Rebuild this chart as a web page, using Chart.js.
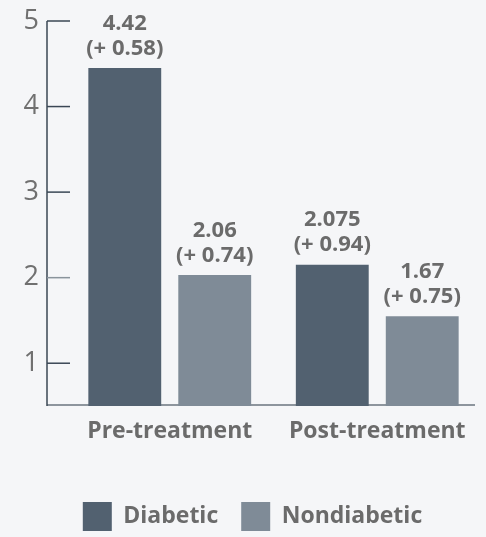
<!DOCTYPE html>
<html>
<head>
<meta charset="utf-8">
<script src="https://cdn.jsdelivr.net/npm/chart.js@4"></script>
<style>
html,body{margin:0;padding:0;background:#f5f6f8;}
#wrap{width:486px;height:537px;position:relative;}
</style>
</head>
<body>
<div id="wrap"><canvas id="c" width="486" height="537"></canvas></div>
<script>
const categories = ["Pre-treatment", "Post-treatment"];
const seriesNames = ["Diabetic", "Nondiabetic"];
const diabeticValues = [4.45, 2.15];
const nondiabeticValues = [2.03, 1.55];
const diabeticLabels = ["4.42", "2.075"];
const nondiabeticLabels = ["2.06", "1.67"];
const diabeticSD = ["0.58", "0.94"];
const nondiabeticSD = ["0.74", "0.75"];
const yTicks = [1, 2, 3, 4, 5];
const colors = ["#526170", "#7f8b97"];

const FONT = "'Open Sans', 'Noto Sans', sans-serif";
const TEXT = "#6b6b6b";

const valueLabels = [diabeticLabels, nondiabeticLabels];
const sdLabels = [diabeticSD, nondiabeticSD];

const axisPlugin = {
  id: 'customAxes',
  beforeDatasetsDraw(chart) {
    const {ctx, chartArea, scales} = chart;
    const y = scales.y;
    const ax = chartArea.left - 19;
    ctx.save();
    ctx.strokeStyle = '#8d959d';
    ctx.lineWidth = 2;
    ctx.beginPath();
    ctx.moveTo(ax, chartArea.bottom - 1);
    ctx.lineTo(chartArea.right - 6, chartArea.bottom - 1);
    ctx.stroke();
    ctx.strokeStyle = '#3a4755';
    ctx.lineWidth = 1.5;
    ctx.beginPath();
    ctx.moveTo(ax, y.getPixelForValue(yTicks[yTicks.length - 1]));
    ctx.lineTo(ax, chartArea.bottom);
    ctx.stroke();
    yTicks.forEach(t => {
      const py = y.getPixelForValue(t);
      ctx.strokeStyle = t === 2 ? '#8a949c' : '#3a4755';
      ctx.beginPath();
      ctx.moveTo(ax, py);
      ctx.lineTo(ax + 23, py);
      ctx.stroke();
    });
    ctx.restore();
  }
};

const labelPlugin = {
  id: 'barLabels',
  afterDatasetsDraw(chart) {
    const {ctx} = chart;
    ctx.save();
    ctx.font = "bold 22px " + FONT;
    ctx.fillStyle = TEXT;
    ctx.textAlign = 'center';
    ctx.textBaseline = 'alphabetic';
    chart.data.datasets.forEach((ds, di) => {
      const meta = chart.getDatasetMeta(di);
      meta.data.forEach((bar, i) => {
        const base = bar.y - 13.5;
        ctx.fillText("(+ " + sdLabels[di][i] + ")", bar.x, base);
        ctx.fillText(valueLabels[di][i], bar.x, base - 25);
      });
    });
    ctx.restore();
  }
};

new Chart(document.getElementById('c'), {
  type: 'bar',
  data: {
    labels: categories,
    datasets: [
      {label: seriesNames[0], data: diabeticValues, backgroundColor: colors[0]},
      {label: seriesNames[1], data: nondiabeticValues, backgroundColor: colors[1]}
    ]
  },
  options: {
    responsive: false,
    animation: false,
    devicePixelRatio: 1,
    layout: {padding: {left: 24, right: 5, top: 0, bottom: 0}},
    datasets: {bar: {barPercentage: 0.81, categoryPercentage: 0.867}},
    scales: {
      x: {
        grid: {display: false, drawTicks: false},
        border: {display: false},
        ticks: {font: {family: FONT, size: 23, weight: 'bold'}, color: TEXT, padding: 12, maxRotation: 0},
        afterFit(s) { s.height = 73; }
      },
      y: {
        min: 0.5, max: 5,
        grid: {display: false, drawTicks: false},
        border: {display: false},
        ticks: {font: {family: FONT, size: 27, weight: 'normal'}, color: '#707070', padding: 27, stepSize: 1},
        afterBuildTicks(s) { s.ticks = yTicks.map(v => ({value: v})); },
        afterFit(s) { s.width = 42; s.paddingTop = 21; s.paddingBottom = 0; }
      }
    },
    plugins: {
      legend: {
        position: 'bottom',
        maxHeight: 58,
        labels: {
          boxWidth: 29, boxHeight: 29, padding: 23,
          color: TEXT,
          font: {family: FONT, size: 23, weight: 'bold'}
        }
      },
      tooltip: {enabled: false}
    }
  },
  plugins: [axisPlugin, labelPlugin]
});
</script>
</body>
</html>
